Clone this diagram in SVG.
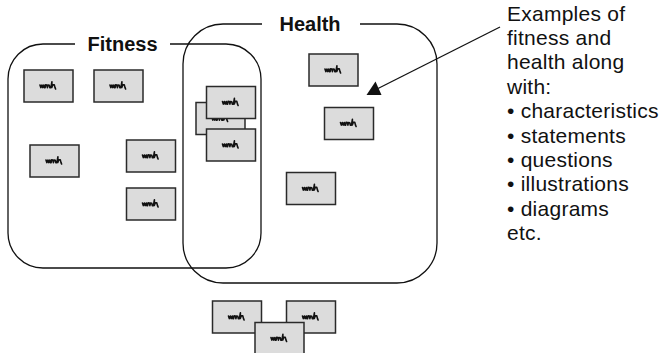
<svg xmlns="http://www.w3.org/2000/svg" xmlns:xlink="http://www.w3.org/1999/xlink" width="661" height="353" viewBox="0 0 661 353">
  <style>
    .set { fill: none; stroke: #111; stroke-width: 1.3; }
    .card { fill: #dcdcdc; stroke: #2a2a2a; stroke-width: 1.5; }
    .scrawl { fill: none; stroke: #111; stroke-width: 1.6; stroke-linejoin: round; stroke-linecap: round; }
    .title { font-family: "Liberation Sans", Arial, sans-serif; font-weight: bold; font-size: 20px; fill: #111; text-anchor: middle; }
    .note { font-family: "Liberation Sans", Arial, sans-serif; font-size: 21px; letter-spacing: 0.25px; fill: #111; }
    .link { fill: none; stroke: #111; stroke-width: 1.3; }
  </style>
  <defs>
    <!-- a sticky card with an illegible handwritten note, drawn around its centre -->
    <g id="cardShape">
      <rect class="card" x="-24.5" y="-16" width="49" height="32"/>
      <path class="scrawl" d="M-8.5,-1 l0.8,2.6 l1.1,-2.6 l0.8,2.6 l1.1,-2.6 l0.6,2.6 M-3.4,1.6 l0.5,-2.8 l1.3,0.2 l0.5,2.6 l0.6,-2.6 l1.3,0.3 l0.5,2.4 M2.4,1.6 l1,-5.8 l-0.1,5.6 l1,-2.6 l1.5,0.1 l0.7,2.7 l0.6,1.4"/>
    </g>
  </defs>

  <!-- overlapping sets -->
  <g id="fitness">
    <path class="set" d="M75,44 H43 A35,35 0 0 0 8,79 V233 A35,35 0 0 0 43,268 H226 A35,35 0 0 0 261,233 V79 A35,35 0 0 0 226,44 H170"/>
    <text class="title" x="122.5" y="50.5">Fitness</text>
  </g>
  <g id="health">
    <path class="set" d="M262,24 H223 A40,40 0 0 0 183,64 V243 A40,40 0 0 0 223,283 H397 A40,40 0 0 0 437,243 V64 A40,40 0 0 0 397,24 H360"/>
    <text class="title" x="310" y="31">Health</text>
  </g>

  <!-- cards inside Fitness -->
  <g id="card-f1"><use xlink:href="#cardShape" x="48.5" y="86"/></g>
  <g id="card-f2"><use xlink:href="#cardShape" x="118.5" y="86"/></g>
  <g id="card-f3"><use xlink:href="#cardShape" x="54.5" y="161"/></g>
  <g id="card-f4"><use xlink:href="#cardShape" x="151" y="156"/></g>
  <g id="card-f5"><use xlink:href="#cardShape" x="151" y="204"/></g>

  <!-- stacked cards in the overlap -->
  <g id="card-o1"><use xlink:href="#cardShape" x="220.5" y="118.5"/></g>
  <g id="card-o2"><use xlink:href="#cardShape" x="231" y="102.5"/></g>
  <g id="card-o3"><use xlink:href="#cardShape" x="231" y="145"/></g>

  <!-- cards inside Health -->
  <g id="card-h1"><use xlink:href="#cardShape" x="333.5" y="70"/></g>
  <g id="card-h2"><use xlink:href="#cardShape" x="349" y="123.5"/></g>
  <g id="card-h3"><use xlink:href="#cardShape" x="311" y="188.5"/></g>

  <!-- cards outside both sets -->
  <g id="card-u1"><use xlink:href="#cardShape" x="237" y="317"/></g>
  <g id="card-u2"><use xlink:href="#cardShape" x="311" y="317"/></g>
  <g id="card-u3"><use xlink:href="#cardShape" x="279.5" y="338.5"/></g>

  <!-- pointer from the note into the Health set -->
  <g id="connectors">
    <line class="link" x1="500" y1="27" x2="378" y2="88.5"/>
    <polygon points="366.5,95 375.5,81.5 381.5,95" fill="#111"/>
  </g>

  <g id="note">
    <text class="note" x="507" y="20.5">Examples of</text>
    <text class="note" x="507" y="44.9">fitness and</text>
    <text class="note" x="507" y="69.3">health along</text>
    <text class="note" x="507" y="93.7">with:</text>
    <text class="note" x="507" y="118.1">• characteristics</text>
    <text class="note" x="507" y="142.5">• statements</text>
    <text class="note" x="507" y="166.9">• questions</text>
    <text class="note" x="507" y="191.3">• illustrations</text>
    <text class="note" x="507" y="215.7">• diagrams</text>
    <text class="note" x="507" y="240.1">etc.</text>
  </g>
</svg>
